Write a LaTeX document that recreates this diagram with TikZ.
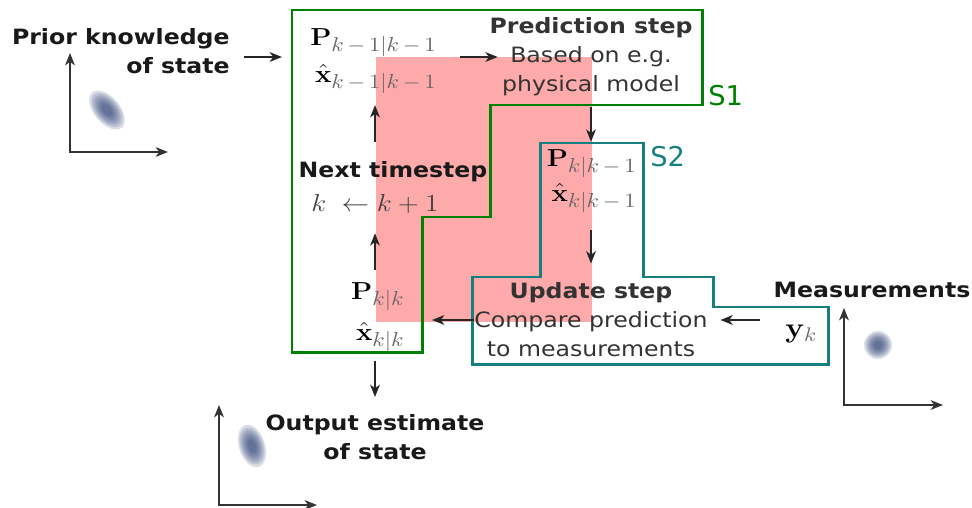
\documentclass[tikz,border=0pt]{standalone}
\usepackage{fix-cm}
\usepackage[no-math]{fontspec}
\setmainfont{DejaVu Sans}[FakeStretch=1.12]
\newfontfamily\tagfont{DejaVu Sans}
\usepackage{graphicx}
\usetikzlibrary{arrows.meta}

\definecolor{kfgreen}{RGB}{0,128,0}
\definecolor{kfteal}{RGB}{22,128,128}
\definecolor{kfpink}{RGB}{255,170,170}
\definecolor{kfblob}{RGB}{40,60,115}

\DeclareMathSizes{14}{14}{11.5}{9}
\newcommand{\kffont}{\fontsize{12}{16.5}\selectfont}
\newcommand{\mathsize}{\fontsize{14}{17}\selectfont}
\newcommand{\hstretch}[1]{\scalebox{1.12}[1]{#1}}
\newcommand{\est}[2]{\hstretch{$#1_{\color{black!60}#2}$}}

\tikzset{
  arr/.style={-{Stealth[length=7pt,width=5.5pt,inset=2pt]}, line width=1.1pt, black!85},
  axes/.style={{Stealth[length=7pt,width=5.5pt,inset=2pt]}-{Stealth[length=7pt,width=5.5pt,inset=2pt]}, line width=1.1pt, black!80},
  lbl/.style={inner sep=0pt, font=\kffont\bfseries, text=black!90, align=center},
  desc/.style={inner sep=0pt, font=\kffont, text=black!80, align=center},
  mth/.style={inner sep=0pt, font=\mathsize, text=black},
  tag/.style={inner sep=0pt, font=\fontsize{15.5}{18}\tagfont},
  region/.style={line width=1.7pt, line join=miter},
  blob/.style={kfblob, opacity=0.17},
}

\begin{document}
\begin{tikzpicture}[x=0.02cm, y=-0.02cm]
\useasboundingbox (0,0) rectangle (972,507);

% the shaded block behind the loop
\fill[kfpink] (376,57) rectangle (592,322);

% gaussians
\begin{scope}[shift={(107,110)}, rotate=-50]
  \foreach \s in {1,0.88,0.76,0.64,0.52,0.4,0.3}
    \fill[blob] (0,0) ellipse [x radius=\s*0.46cm, y radius=\s*0.26cm];
\end{scope}
\begin{scope}[shift={(878,345)}]
  \foreach \s in {1,0.88,0.76,0.64,0.52,0.4,0.3}
    \fill[blob] (0,0) circle [radius=\s*0.28cm];
\end{scope}
\begin{scope}[shift={(252,446)}, rotate=-72]
  \foreach \s in {1,0.88,0.76,0.64,0.52,0.4,0.3}
    \fill[blob] (0,0) ellipse [x radius=\s*0.44cm, y radius=\s*0.26cm];
\end{scope}

% axes
\draw[axes] (70,53) -- (70,152) -- (168,152);
\draw[axes] (844,308) -- (844,405) -- (943,405);
\draw[axes] (219,405) -- (219,505) -- (317,505);

% S1 and S2
\draw[region, kfgreen] (292,10) -- (702,10) -- (702,105) -- (490,105) -- (490,217)
  -- (422,217) -- (422,352) -- (292,352) -- cycle;
\draw[region, kfteal] (540,143) -- (643,143) -- (643,277) -- (713,277) -- (713,307)
  -- (828,307) -- (828,364) -- (472,364) -- (472,277) -- (540,277) -- cycle;
\node[tag, text=kfgreen, anchor=base west] (s1) at (708,105) {S1};
\node[tag, text=kfteal, anchor=base west] (s2) at (650,166) {S2};

% texts
\node[lbl, align=right, anchor=east] (prior) at (230,51) {Prior knowledge\\of state};
\node[desc] (pred) at (591,57) {\textbf{Prediction step}\\Based on e.g.\\physical model};
\node[lbl, anchor=base] (next) at (393,177) {Next timestep};
\node[mth, text=black!75, anchor=base] (kinc) at (375,211) {\hstretch{$k\;\leftarrow k+1$}};
\node[desc] (update) at (591,320) {\textbf{Update step}\\Compare prediction\\to measurements};
\node[lbl, anchor=base] (meas) at (872,297) {Measurements};
\node[lbl] (out) at (375,437) {Output estimate\\of state};

\node[mth, anchor=base east] (Pprev) at (437,45) {\est{\mathbf{P}}{k\,-\,1|k\,-\,1}};
\node[mth, anchor=base east] (xprev) at (437,82) {\est{\hat{\mathbf{x}}}{k\,-\,1|k\,-\,1}};
\node[mth, anchor=base east] (Ppred) at (637,166) {\est{\mathbf{P}}{k|k\,-\,1}};
\node[mth, anchor=base east] (xpred) at (637,201) {\est{\hat{\mathbf{x}}}{k|k\,-\,1}};
\node[mth, anchor=base east] (Pcur) at (405,299) {\est{\mathbf{P}}{k|k}};
\node[mth, anchor=base east] (xcur) at (405,340) {\est{\hat{\mathbf{x}}}{k|k}};
\node[mth, font=\fontsize{16}{19}\selectfont, anchor=base west] (yk) at (785,337) {\est{\mathbf{y}}{k}};

% arrows
\coordinate (s1in) at (282,57);
\draw[arr, shorten <=0.28cm] (prior.east |- s1in) -- (s1in);
\draw[arr, shorten <=0.46cm, shorten >=-0.17cm] (Pprev.east |- pred.west) -- (pred.west);
\draw[arr, shorten <=0.2cm, shorten >=0.14cm] (pred.south) -- (pred.south |- Ppred.north);
\draw[arr, shorten <=0.34cm, shorten >=0.38cm] (pred.south |- xpred.south) -- (pred.south |- update.north);
\draw[arr, shorten >=0.54cm] (update.west) -- (update.west -| xcur.east);
\draw[arr, shorten <=0.5cm, shorten >=0.25cm] (yk.west |- update.east) -- (update.east);
\draw[arr, shorten <=0.18cm, shorten >=0.34cm] (out.north |- xcur.south) -- (out.north);
\draw[arr, shorten <=0.24cm, shorten >=0.4cm] (kinc.south |- Pcur.north) -- (kinc.south);
\draw[arr, shorten <=0.38cm, shorten >=0.22cm] (kinc.north |- next.north) -- (kinc.north |- xprev.south);

\end{tikzpicture}
\end{document}
